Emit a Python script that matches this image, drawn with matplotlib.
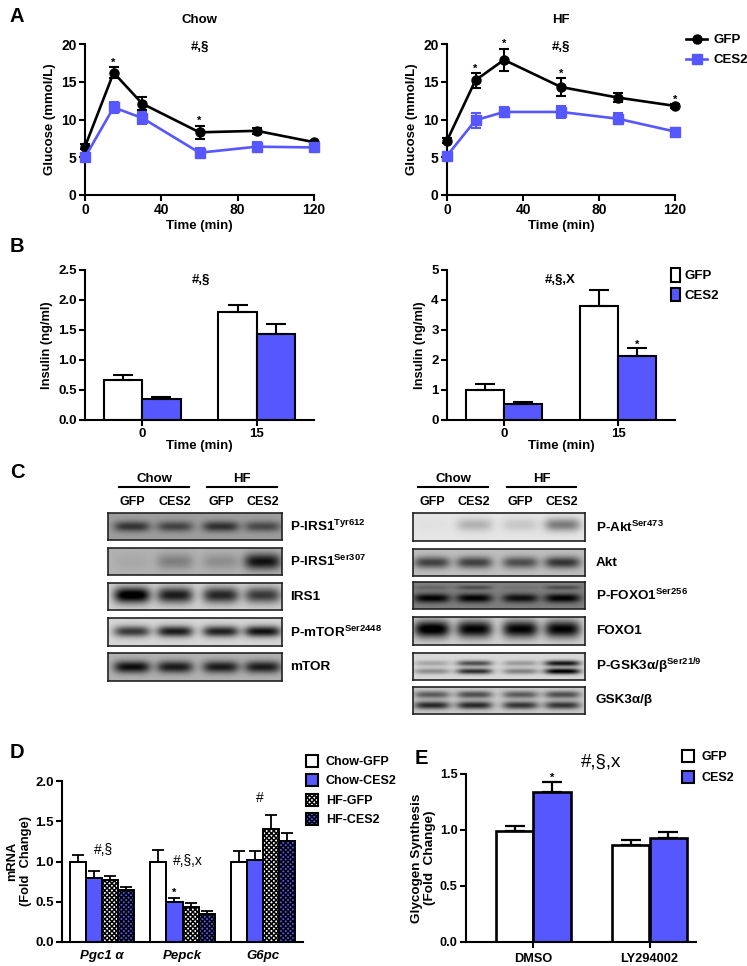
import numpy as np
import matplotlib
matplotlib.use('Agg')
import matplotlib.pyplot as plt
from matplotlib.lines import Line2D
from matplotlib.patches import Patch

W, H = 747, 966
BLUE = '#5757ff'

plt.rcParams['font.family'] = ['Liberation Sans', 'DejaVu Sans']
plt.rcParams['font.weight'] = 'bold'
plt.rcParams['axes.labelweight'] = 'bold'
plt.rcParams['mathtext.fontset'] = 'custom'
plt.rcParams['mathtext.bf'] = 'Liberation Sans:bold'
plt.rcParams['hatch.linewidth'] = 1.1

# panel A
time_min = [0, 15, 30, 60, 90, 120]
chow_gfp = [6.4, 16.2, 12.1, 8.3, 8.5, 7.0]
chow_gfp_err = [0.3, 0.7, 0.9, 0.9, 0.4, 0.2]
chow_ces2 = [5.0, 11.6, 10.2, 5.6, 6.4, 6.3]
chow_ces2_err = [0.3, 0.7, 0.8, 0.6, 0.6, 0.4]
chow_stars = [15, 60]
hf_gfp = [7.2, 15.2, 17.9, 14.3, 12.9, 11.8]
hf_gfp_err = [0.3, 1.0, 1.5, 1.2, 0.6, 0.3]
hf_ces2 = [5.2, 9.9, 11.0, 11.0, 10.1, 8.4]
hf_ces2_err = [0.3, 1.0, 0.7, 0.8, 0.7, 0.5]
hf_stars = [15, 30, 60, 120]

# panel B
ins_times = ['0', '15']
ins_chow_gfp = [0.66, 1.80]
ins_chow_gfp_err = [0.09, 0.11]
ins_chow_ces2 = [0.35, 1.43]
ins_chow_ces2_err = [0.03, 0.17]
ins_hf_gfp = [1.0, 3.8]
ins_hf_gfp_err = [0.2, 0.55]
ins_hf_ces2 = [0.52, 2.13]
ins_hf_ces2_err = [0.07, 0.27]

# panel C, one row per blot: label, background grey, then bands as
# (height in blot, thickness, darkness in each of the 4 lanes)
lanes_left = [0.138, 0.385, 0.649, 0.89]
lanes_right = [0.11, 0.357, 0.625, 0.87]
blots_left = [
    ('P-IRS1$^{\\mathbf{Tyr612}}$', 0.62, [(0.5, 0.20, [0.42, 0.36, 0.44, 0.34])]),
    ('P-IRS1$^{\\mathbf{Ser307}}$', 0.70, [(0.5, 0.30, [0.04, 0.20, 0.14, 0.64])]),
    ('IRS1', 0.82, [(0.45, 0.30, [0.90, 0.72, 0.68, 0.60])]),
    ('P-mTOR$^{\\mathbf{Ser2448}}$', 0.84, [(0.48, 0.20, [0.62, 0.74, 0.72, 0.78])]),
    ('mTOR', 0.70, [(0.5, 0.22, [0.66, 0.60, 0.60, 0.60])]),
]
blots_right = [
    ('P-Akt$^{\\mathbf{Ser473}}$', 0.90, [(0.42, 0.24, [0.02, 0.20, 0.12, 0.42])]),
    ('Akt', 0.75, [(0.5, 0.22, [0.50, 0.50, 0.45, 0.55])]),
    ('P-FOXO1$^{\\mathbf{Ser256}}$', 0.50, [(0.6, 0.17, [0.50, 0.50, 0.45, 0.50]),
                                           (0.2, 0.08, [0.10, 0.20, 0.05, 0.20])]),
    ('FOXO1', 0.82, [(0.45, 0.30, [0.88, 0.82, 0.82, 0.82])]),
    ('P-GSK3α/β$^{\\mathbf{Ser21/9}}$', 0.85, [(0.38, 0.11, [0.20, 0.55, 0.25, 0.78]),
                                              (0.68, 0.11, [0.30, 0.68, 0.35, 0.88])]),
    ('GSK3α/β', 0.80, [(0.28, 0.14, [0.45, 0.50, 0.45, 0.50]),
                       (0.68, 0.15, [0.65, 0.65, 0.60, 0.60])]),
]
blot_rows_left = [(513, 540), (548, 575), (583, 610), (618, 646), (653, 681)]
blot_rows_right = [(513, 541), (549, 576), (582, 609), (617, 645), (653, 680), (687, 714)]

# panel D
genes = ['Pgc1 α', 'Pepck', 'G6pc']
mrna_groups = ['Chow-GFP', 'Chow-CES2', 'HF-GFP', 'HF-CES2']
mrna_vals = [[1.0, 1.0, 1.0], [0.80, 0.50, 1.02], [0.77, 0.44, 1.40], [0.65, 0.35, 1.25]]
mrna_errs = [[0.08, 0.14, 0.13], [0.08, 0.05, 0.11], [0.05, 0.05, 0.18], [0.03, 0.04, 0.11]]

# panel E
treatments = ['DMSO', 'LY294002']
gly_gfp = [0.99, 0.87]
gly_gfp_err = [0.05, 0.04]
gly_ces2 = [1.34, 0.93]
gly_ces2_err = [0.09, 0.05]


def add_ax(left, right, top, bottom):
    # axes from pixel edges of the figure
    ax = fig.add_axes([left / W, 1 - bottom / H, (right - left) / W, (bottom - top) / H])
    ax.spines['top'].set_visible(False)
    ax.spines['right'].set_visible(False)
    ax.spines['left'].set_linewidth(1.5)
    ax.spines['bottom'].set_linewidth(1.5)
    ax.tick_params(width=1.5, length=4, pad=2)
    ax.patch.set_alpha(0)
    return ax


def ftext(x, y, s, **kw):
    kw.setdefault('ha', 'center')
    kw.setdefault('va', 'center')
    fig.text(x / W, 1 - y / H, s, **kw)


def line_panel(ax, gfp, gfp_err, ces2, ces2_err, stars):
    ax.errorbar(time_min, gfp, yerr=gfp_err, color='black', marker='o', ms=6.5, lw=1.9,
                elinewidth=1.5, capsize=3.5, capthick=1.5, clip_on=False, zorder=3)
    ax.errorbar(time_min, ces2, yerr=ces2_err, color=BLUE, marker='s', ms=6.5, lw=1.9,
                elinewidth=1.5, capsize=3.5, capthick=1.5, clip_on=False, zorder=4)
    for t in stars:
        i = time_min.index(t)
        ax.text(t, gfp[i] + gfp_err[i] - 0.1, '*', ha='center', va='bottom', fontsize=8)
    ax.set_xlim(0, 120)
    ax.set_ylim(0, 20)
    ax.set_xticks([0, 40, 80, 120])
    ax.set_yticks([0, 5, 10, 15, 20])
    ax.tick_params(labelsize=10)
    ax.set_xlabel('Time (min)', fontsize=9.5, labelpad=2)
    ax.set_ylabel('Glucose (mmol/L)', fontsize=9.5, labelpad=4)


def bar_panel(ax, gfp, gfp_err, ces2, ces2_err, ymax, yticks, ylabels):
    x = np.arange(len(gfp))
    ekw = dict(lw=1.5, capsize=7, capthick=1.5)
    ax.bar(x - 0.168, gfp, 0.335, color='white', edgecolor='black', lw=1.5,
           yerr=[[0] * len(gfp), gfp_err], error_kw=ekw)
    ax.bar(x + 0.168, ces2, 0.335, color=BLUE, edgecolor='black', lw=1.5,
           yerr=[[0] * len(ces2), ces2_err], error_kw=ekw)
    ax.set_xlim(-0.5, 1.5)
    ax.set_ylim(0, ymax)
    ax.set_xticks(x, ins_times)
    ax.set_yticks(yticks, ylabels)
    ax.tick_params(labelsize=9.5)
    ax.set_xlabel('Time (min)', fontsize=9.5, labelpad=0)
    ax.set_ylabel('Insulin (ng/ml)', fontsize=9.3, labelpad=4)


def draw_blot(left, right, top, bottom, bg, bands, lanes):
    ny, nx = 60, 360
    yy, xx = np.mgrid[0:1:ny * 1j, 0:1:nx * 1j]
    img = np.full((ny, nx), float(bg))
    for pos, thick, dark in bands:
        for cx, d in zip(lanes, dark):
            img -= d * np.exp(-((xx - cx) / 0.105) ** 4) * np.exp(-((yy - pos) / thick) ** 2)
    ax = fig.add_axes([left / W, 1 - bottom / H, (right - left) / W, (bottom - top) / H])
    ax.imshow(np.clip(img, 0, 1), cmap='gray', vmin=0, vmax=1, aspect='auto')
    ax.set_xticks([])
    ax.set_yticks([])
    for s in ax.spines.values():
        s.set_linewidth(1.2)
        s.set_color('#222222')


def blot_column(left, right, rows, blots, lanes, label_x, lane_px, spans):
    for (top, bottom), (label, bg, bands) in zip(rows, blots):
        draw_blot(left, right, top, bottom, bg, bands, lanes)
        ftext(label_x, (top + bottom) / 2, label, ha='left', fontsize=9.7)
    for px, name in zip(lane_px, ['GFP', 'CES2', 'GFP', 'CES2']):
        ftext(px, 502, name, fontsize=9)
    for (a, b), name in zip(spans, ['Chow', 'HF']):
        fig.add_artist(Line2D([a / W, b / W], [1 - 487 / H] * 2, color='black', lw=1.5))
        ftext((a + b) / 2, 479, name, fontsize=9.5)


def add_legend(handles, labels, x, y, size, spacing, **kw):
    fig.legend(handles, labels, loc='upper left', bbox_to_anchor=(x / W, 1 - y / H),
               frameon=False, borderpad=0, borderaxespad=0, labelspacing=spacing,
               prop=dict(size=size, weight='bold'), **kw)


fig = plt.figure(figsize=(W / 100, H / 100), dpi=100)

# A
ax = add_ax(85, 314, 44, 195)
line_panel(ax, chow_gfp, chow_gfp_err, chow_ces2, chow_ces2_err, chow_stars)
ax = add_ax(447, 675, 44, 195)
line_panel(ax, hf_gfp, hf_gfp_err, hf_ces2, hf_ces2_err, hf_stars)
ftext(199, 20, 'Chow', fontsize=9.5)
ftext(561, 20, 'HF', fontsize=9.5)
ftext(200, 47, '#,§', fontsize=9.5)
ftext(561, 47, '#,§', fontsize=9.5)
add_legend([Line2D([], [], color='black', marker='o', ms=6.5, lw=1.9),
            Line2D([], [], color=BLUE, marker='s', ms=6.5, lw=1.9)],
           ['GFP', 'CES2'], 686, 34, 9.5, 0.6, handlelength=1.6, handletextpad=0.45)

# B
ax = add_ax(85, 314, 270, 420)
bar_panel(ax, ins_chow_gfp, ins_chow_gfp_err, ins_chow_ces2, ins_chow_ces2_err,
          2.5, [0, 0.5, 1, 1.5, 2, 2.5], ['0.0', '0.5', '1.0', '1.5', '2.0', '2.5'])
ax = add_ax(447, 675, 270, 420)
bar_panel(ax, ins_hf_gfp, ins_hf_gfp_err, ins_hf_ces2, ins_hf_ces2_err,
          5, [0, 1, 2, 3, 4, 5], ['0', '1', '2', '3', '4', '5'])
ax.text(1.168, ins_hf_ces2[1] + ins_hf_ces2_err[1] - 0.05, '*', ha='center', va='bottom', fontsize=8)
ftext(201, 280, '#,§', fontsize=9.5)
ftext(560, 280, '#,§,X', fontsize=9.5)
add_legend([Patch(facecolor='white', edgecolor='black', lw=1.5),
            Patch(facecolor=BLUE, edgecolor='black', lw=1.5)],
           ['GFP', 'CES2'], 671, 268, 9.5, 0.42, handlelength=0.7, handleheight=1.2, handletextpad=0.35)

# C
blot_column(108, 282, blot_rows_left, blots_left, lanes_left, 290, [132, 175, 221, 263],
            [(119, 189), (207, 277)])
blot_column(413, 585, blot_rows_right, blots_right, lanes_right, 596, [432, 474, 520, 562],
            [(418, 488), (507, 576)])

# D
ax = add_ax(62, 303, 781, 942)
styles = [('white', None), (BLUE, None), ('white', 'xxxxxxx'), (BLUE, 'xxxxxxx')]
for i, (vals, errs, (col, hat)) in enumerate(zip(mrna_vals, mrna_errs, styles)):
    ax.bar(np.arange(3) + (i - 1.5) * 0.2, vals, 0.2, color=col, edgecolor='black', lw=1.4, hatch=hat,
           yerr=[[0] * 3, errs], error_kw=dict(lw=1.3, capsize=4.3, capthick=1.3))
ax.set_xlim(-0.5, 2.5)
ax.set_ylim(0, 2)
ax.set_xticks(range(3), genes, style='italic')
ax.set_yticks([0, 0.5, 1, 1.5, 2], ['0.0', '0.5', '1.0', '1.5', '2.0'])
ax.tick_params(labelsize=9.5)
ax.tick_params(axis='x', length=0, pad=6)
ax.set_ylabel('mRNA\n(Fold  Change)', fontsize=9.3, labelpad=2, linespacing=1.2)
ax.text(1 - 0.1, mrna_vals[1][1] + mrna_errs[1][1], '*', ha='center', va='bottom', fontsize=8)
ftext(103, 850, '#,§', fontsize=10, weight='normal')
ftext(188, 861, '#,§,x', fontsize=10, weight='normal')
ftext(260, 798, '#', fontsize=10, weight='normal')
add_legend([Patch(facecolor=c, edgecolor='black', lw=1.5, hatch=h) for c, h in styles],
           mrna_groups, 306, 755, 9, 0.48, handlelength=0.95, handleheight=1.1, handletextpad=0.65)

# E
ax = add_ax(466, 696, 774, 942)
x = np.arange(2)
ekw = dict(lw=1.6, capsize=7, capthick=1.6)
ax.bar(x - 0.162, gly_gfp, 0.323, color='white', edgecolor='black', lw=1.9,
       yerr=[[0, 0], gly_gfp_err], error_kw=ekw)
ax.bar(x + 0.162, gly_ces2, 0.323, color=BLUE, edgecolor='black', lw=1.9,
       yerr=[[0, 0], gly_ces2_err], error_kw=ekw)
ax.set_xlim(-0.58, 1.4)
ax.set_ylim(0, 1.5)
ax.set_xticks(x, treatments)
ax.set_yticks([0, 0.5, 1, 1.5], ['0.0', '0.5', '1.0', '1.5'])
ax.tick_params(labelsize=9.2)
ax.tick_params(axis='x', pad=4)
ax.set_ylabel('Glycogen Synthesis\n(Fold  Change)', fontsize=9.7, labelpad=3, linespacing=1.05)
ax.text(0.162, gly_ces2[0] + gly_ces2_err[0] - 0.01, '*', ha='center', va='bottom', fontsize=8)
ftext(601, 762, '#,§,x', fontsize=13.5, weight='normal')
add_legend([Patch(facecolor='white', edgecolor='black', lw=1.5),
            Patch(facecolor=BLUE, edgecolor='black', lw=1.5)],
           ['GFP', 'CES2'], 682, 750, 9, 0.62, handlelength=0.95, handleheight=1.1, handletextpad=0.6)

# panel letters
for letter, px, py in [('A', 17, 16), ('B', 17, 247), ('C', 17, 473), ('D', 17, 753), ('E', 421, 758)]:
    ftext(px, py, letter, fontsize=14.5)

fig.savefig('out.png', dpi=100)
